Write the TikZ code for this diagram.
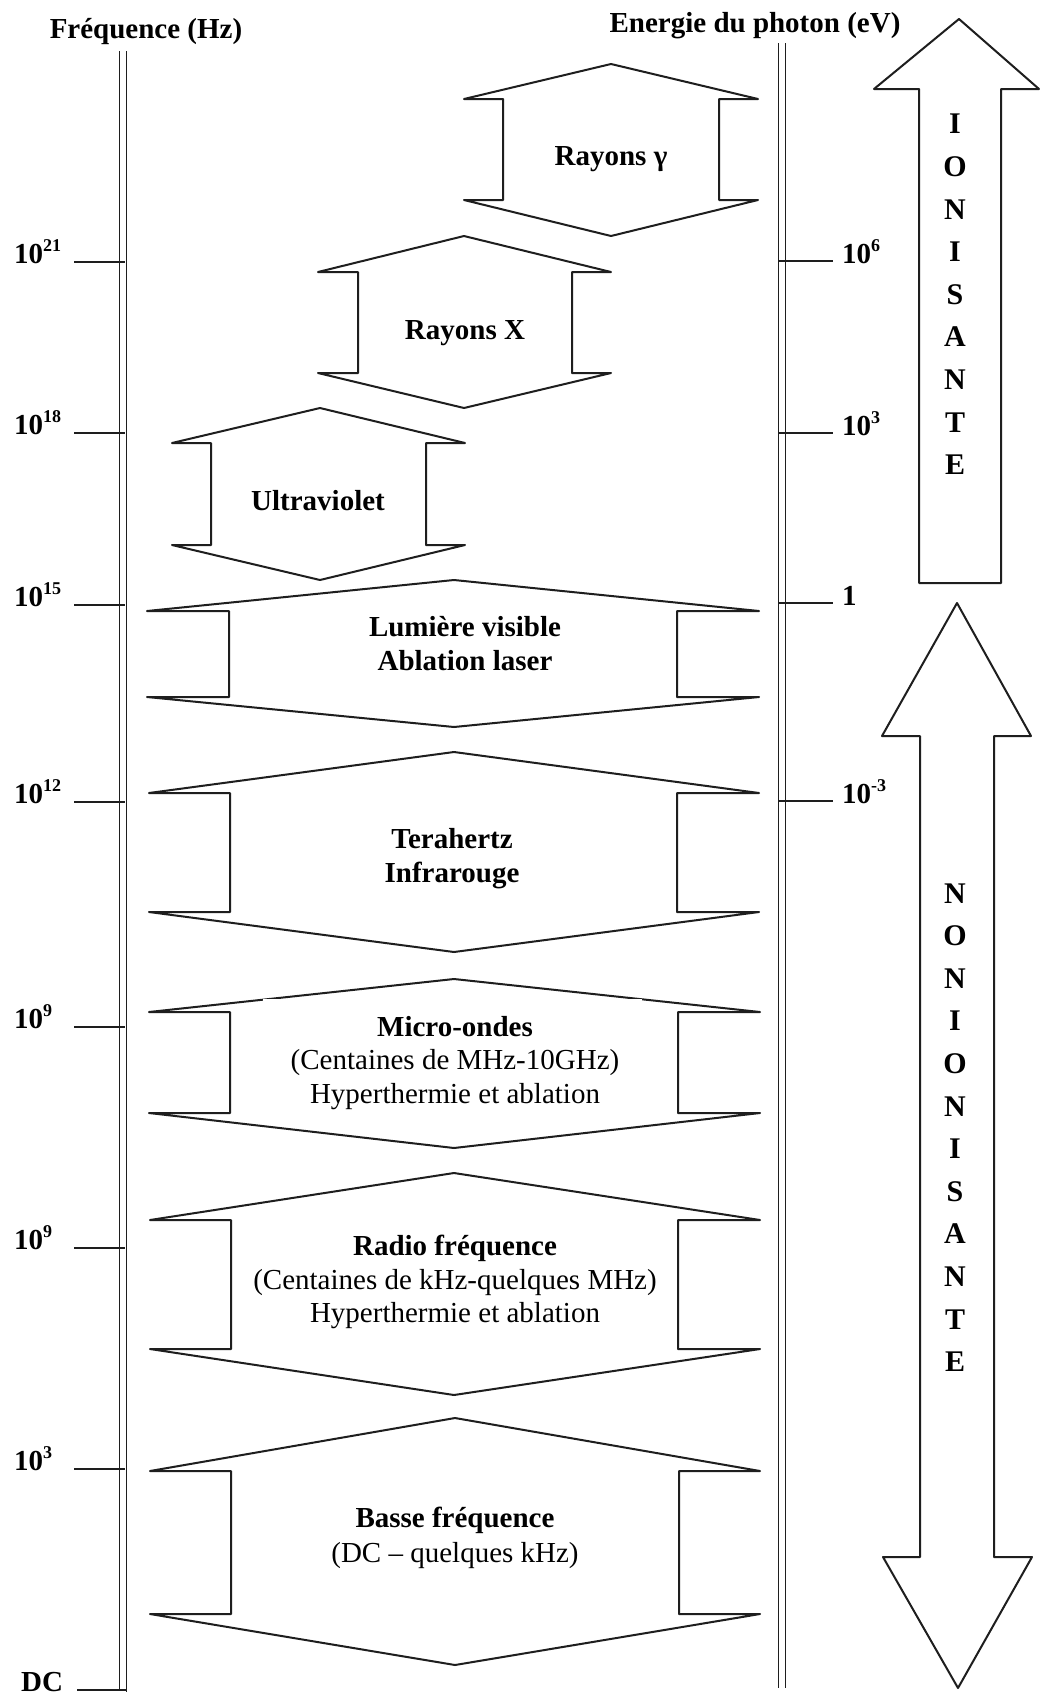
\documentclass[tikz,border=0pt]{standalone}
\usepackage{fontspec}
\setmainfont{Liberation Serif}
\definecolor{ink}{RGB}{30,30,30}
\newcommand{\supx}[1]{\raisebox{12pt}{\fontsize{18}{18}\selectfont #1}}
\newcommand{\dbarrow}[9]{\draw[band] (#1,#6) -- (#3,#7) -- (#5,#7) -- (#5,#8) -- (#3,#8) -- (#1,#9) -- (#2,#8) -- (#4,#8) -- (#4,#7) -- (#2,#7) -- cycle;}
\begin{document}
\begin{tikzpicture}[x=1pt,y=-1pt,
 band/.style={draw=ink,line width=2pt,line join=round},
 axisln/.style={draw=ink,line width=1.8pt},
 tickln/.style={draw=ink,line width=1.8pt},
 lblb/.style={font=\fontsize{29}{34}\selectfont\bfseries,anchor=base,inner sep=0pt,text=black},
 lblr/.style={font=\fontsize{29}{34}\selectfont,anchor=base,inner sep=0pt,text=black},
 vlet/.style={font=\fontsize{30}{42.6}\selectfont\bfseries,align=center,inner sep=0pt,text=black}]
\fill[white] (0,0) rectangle (1041,1695);
\useasboundingbox (0,0) rectangle (1041,1695);

% axes
\coordinate (fa1) at (119.5,51);  \coordinate (fb1) at (119.5,1691);
\coordinate (fa2) at (126.5,51);  \coordinate (fb2) at (126.5,1692);
\coordinate (ea1) at (778.5,43);  \coordinate (eb1) at (778.5,1688);
\coordinate (ea2) at (785.5,43);  \coordinate (eb2) at (785.5,1688);
\draw[axisln] (fa1) -- (fb1);
\draw[axisln] (fa2) -- (fb2);
\draw[axisln] (ea1) -- (eb1);
\draw[axisln] (ea2) -- (eb2);

% headers
\node[lblb] (hfreq) at (146,38) {Fréquence (Hz)};
\node[lblb] (hener) at (755,32) {Energie du photon (eV)};

% left ticks
\foreach \y/\t [count=\i] in {262/21,433/18,605/15,802/12,1027/9,1248/9,1469/3}{
  \draw[tickln] (74,\y) -- (125,\y);
  \node[lblb,anchor=base west] (fl\i) at (14,\y+1) {10\supx{\t}};
}
\draw[tickln] (77,1690) -- (126,1690);
\node[lblb,anchor=base west] (fdc) at (21,1691.5) {DC};

% right ticks
\foreach \y/\t [count=\i] in {261/10\supx{6},433/10\supx{3},603/1,801/10\supx{-3}}{
  \draw[tickln] (779,\y) -- (833,\y);
  \node[lblb,anchor=base west] (el\i) at (842,\y+2) {\t};
}

% bands
\dbarrow{611}{464}{758}{503}{719}{64}{99}{200}{236}
\dbarrow{464}{318}{611}{358}{572}{236}{272}{373}{408}
\dbarrow{320}{172}{465}{211}{426}{408}{443}{545}{580}
\dbarrow{454}{147}{759}{229}{677}{580}{611}{697}{727}
\dbarrow{454}{149}{759}{230}{677}{752}{793}{912}{952}
\dbarrow{454}{149}{760}{230}{678}{979}{1012}{1113}{1148}
\fill[white] (263,998.5) rectangle (642,1014);
\dbarrow{454}{150}{760}{231}{678}{1173}{1220}{1349}{1395}
\dbarrow{455}{150}{760}{231}{679}{1418}{1471}{1614}{1665}

% ionisation arrows
\draw[band] (959,19) -- (1039,89) -- (1001,89) -- (1001,583) -- (919,583) -- (919,89) -- (874,89) -- cycle;
\draw[band] (957,603) -- (1031,736) -- (994,736) -- (994,1557) -- (1032,1557) -- (958,1688) -- (883,1557) -- (920,1557) -- (920,736) -- (882,736) -- cycle;

% band labels
\node[lblb] (tg) at (611,165) {Rayons γ};
\node[lblb] (tx) at (465,339) {Rayons X};
\node[lblb] (tuv) at (318,510) {Ultraviolet};
\node[lblb] (tv1) at (465,636) {Lumière visible};
\node[lblb] (tv2) at (465,670) {Ablation laser};
\node[lblb] (tt1) at (452,848) {Terahertz};
\node[lblb] (tt2) at (452,882) {Infrarouge};
\node[lblb] (tm1) at (455,1036) {Micro-ondes};
\node[lblr] (tm2) at (455,1069) {(Centaines de MHz-10GHz)};
\node[lblr] (tm3) at (455,1103) {Hyperthermie et ablation};
\node[lblb] (tr1) at (455,1255) {Radio fréquence};
\node[lblr] (tr2) at (455,1289) {(Centaines de kHz-quelques MHz)};
\node[lblr] (tr3) at (455,1322) {Hyperthermie et ablation};
\node[lblb] (tb1) at (455,1527) {Basse fréquence};
\node[lblr] (tb2) at (455,1562) {(DC – quelques kHz)};

% vertical words
\node[vlet] (ion) at (955,294.5) {I\\O\\N\\I\\S\\A\\N\\T\\E};
\node[vlet] (nonion) at (955,1127.5) {N\\O\\N\\I\\O\\N\\I\\S\\A\\N\\T\\E};
\end{tikzpicture}
\end{document}
